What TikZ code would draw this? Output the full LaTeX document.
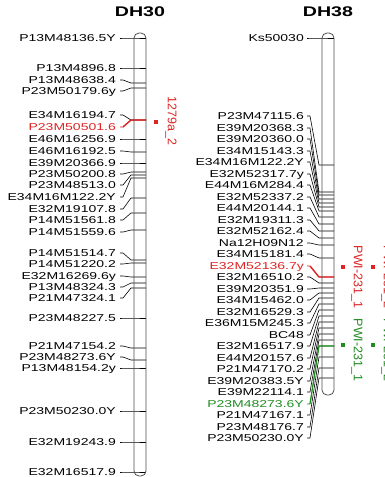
\documentclass[tikz,border=0pt]{standalone}
\usepackage{fontspec}
\setmainfont[FakeStretch=1.4]{Liberation Sans}
\newfontfamily\qtlfont{Liberation Sans}
\definecolor{qred}{RGB}{222,36,36}
\definecolor{qgreen}{RGB}{34,140,34}
\begin{document}
\begin{tikzpicture}[x=1pt, y=-1pt,
  every node/.style={inner sep=0pt, font=\fontsize{10}{12}\selectfont},
  lab/.style={anchor=east, text height=7.2pt, text depth=0pt},
  link/.style={line width=0.6pt},
  chrom/.style={line width=0.8pt, black!70, rounded corners=5pt},
  qtl/.style={rotate=-90, font=\qtlfont\fontsize{12.5}{14}\selectfont},
  dot/.style={minimum size=3.4pt}]
  \useasboundingbox (0,0) rectangle (385,477);

  % titles
  \node[font=\bfseries\fontsize{14}{16}\selectfont] (t30) at (140,12) {DH30};
  \node[font=\bfseries\fontsize{14}{16}\selectfont] (t38) at (328,12) {DH38};

  % DH30 markers
  \foreach \txt/\ly/\by/\col [count=\i] in {
      P13M48136.5Y/38/38/black, P13M4896.8/68/68/black,
      P13M48638.4/80/83/black, P23M50179.6y/91/88/black,
      E34M16194.7/115/120/black, P23M50501.6/127/120/qred,
      E46M16256.9/139/139/black, E46M16192.5/151/152/black,
      E39M20366.9/163/163/black, P23M50200.8/174/172/black,
      P23M48513.0/185/175/black, E34M16M122.2Y/197/178/black,
      E32M19107.8/209/198/black, P14M51561.8/220/213/black,
      P14M51559.6/232/230/black, P14M51514.7/253/260/black,
      P14M51220.2/264/263/black, E32M16269.6y/276/277/black,
      P13M48324.3/287/283/black, P21M47324.1/298/288/black,
      P23M48227.5/318/318/black, P21M47154.2/346/348/black,
      P23M48273.6Y/357/360/black, P13M48154.2y/368/368/black,
      P23M50230.0Y/411/411/black, E32M19243.9/442/442/black,
      E32M16517.9/472/472/black}{
    \node[lab, text=\col] (a\i) at (116,\ly) {\txt};
    \coordinate (p\i) at (134,\by);
    \draw[link, \col] ([xshift=4pt]a\i.east) -- ([xshift=7pt]a\i.east)
      -- ([xshift=-3pt]p\i) -- (p\i) -- ++(12,0);
  }
  \draw[qred, line width=1.4pt] ([xshift=7pt]a6.east) -- ([xshift=-3pt]p6) -- ([xshift=12pt]p6);

  % DH38 markers
  \foreach \txt/\ly/\by/\col [count=\i] in {
      Ks50030/38/38/black,
      P23M47115.6/116/165/black, E39M20368.3/128/192/black,
      E39M20360.0/139/195/black, E34M15143.3/151/199/black,
      E34M16M122.2Y/162/203/black, E32M52317.7y/174/207/black,
      E44M16M284.4/185/211/black, E32M52337.2/197/217/black,
      E44M20144.1/208/224/black, E32M19311.3/220/231/black,
      E32M52162.4/231/238/black, Na12H09N12/243/245/black,
      E34M15181.4/254/258/black, E32M52136.7y/266/277/qred,
      E32M16510.2/277/283/black, E39M20351.9/289/288/black,
      E34M15462.0/300/293/black, E32M16529.3/312/298/black,
      E36M15M245.3/323/304/black, BC48/335/310/black,
      E32M16517.9/346/316/black, E44M20157.6/358/322/black,
      P21M47170.2/369/328/black, E39M20383.5Y/381/334/black,
      E39M22114.1/392/340/black, P23M48273.6Y/404/346/qgreen,
      P21M47167.1/415/357/black, P23M48176.7/427/368/black,
      P23M50230.0Y/438/378/black}{
    \node[lab, text=\col] (b\i) at (304,\ly) {\txt};
    \coordinate (q\i) at (322,\by);
    \draw[link, \col] ([xshift=3pt]b\i.east) -- ([xshift=6pt]b\i.east)
      -- ([xshift=-3pt]q\i) -- (q\i) -- ++(12,0);
  }
  \draw[qred, line width=1.4pt] ([xshift=6pt]b15.east) -- ([xshift=-3pt]q15) -- ([xshift=12pt]q15);
  \draw[qgreen, line width=1.2pt] ([xshift=6pt]b27.east) -- ([xshift=-3pt]q27) -- ([xshift=12pt]q27);

  % chromosomes
  \draw[chrom] (134,33) rectangle (146,476);
  \draw[chrom] (322,33) rectangle (334,395);

  % QTL
  \node[dot, fill=qred] (s1) at (156,122) {};
  \node[qtl, text=qred] (l1) at (171,121) {1279a\_2};
  \node[dot, fill=qred] (s2) at (343,267) {};
  \node[qtl, text=qred] (l2) at (357,277) {PWI-231\_1};
  \node[dot, fill=qgreen] (s3) at (343,345) {};
  \node[qtl, text=qgreen] (l3) at (357,350) {PWI-231\_1};
  \node[dot, fill=qred] (s4) at (373,267) {};
  \node[qtl, text=qred] (l4) at (387,277) {PWI-231\_2};
  \node[dot, fill=qgreen] (s5) at (373,345) {};
  \node[qtl, text=qgreen] (l5) at (387,350) {PWI-231\_2};
\end{tikzpicture}
\end{document}
